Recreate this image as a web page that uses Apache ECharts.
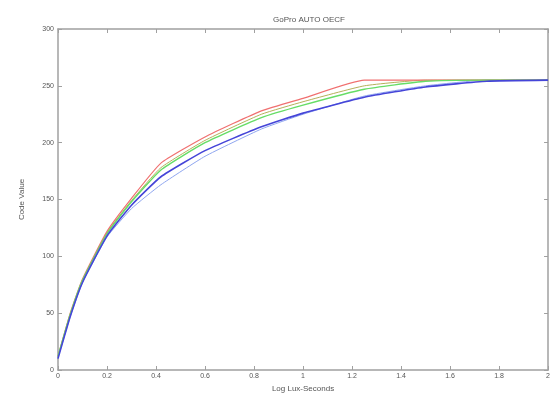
<!DOCTYPE html>
<html>
<head>
<meta charset="utf-8">
<script src="https://cdn.jsdelivr.net/npm/echarts@6/dist/echarts.min.js"></script>
<style>
  html, body { margin: 0; padding: 0; background: #fff; }
  #chart { width: 553px; height: 401px; }
</style>
</head>
<body>
<div id="chart"></div>
<script>
// Log exposure (log lux-seconds) sample positions
const logExposure = [0, 0.05, 0.1, 0.2, 0.3, 0.42, 0.6, 0.83, 1.0, 1.25, 1.5, 1.75, 2.0];

// Code values per channel
const redValues   = [12, 50, 80, 122, 151, 182, 205, 228, 239, 255, 255, 255, 255];
const olivValues  = [12, 49, 79, 121, 149, 178, 202, 225, 236, 250, 255, 255, 255];
const greenValues = [12, 49, 79, 120, 148, 176, 200, 222, 233, 247, 254, 255, 255];
const blueValues  = [10, 47, 77, 118, 145, 170, 193, 214, 226, 240, 249, 254, 255];
const lightBlueValues = [11, 47, 77, 117, 142, 163, 188, 212, 225, 241, 250, 255, 255];

const xTicks = [0, 0.2, 0.4, 0.6, 0.8, 1, 1.2, 1.4, 1.6, 1.8, 2];

const pair = vals => logExposure.map((x, i) => [x, vals[i]]);

const axisGray = '#a0a0a0';
const textGray = '#555';
const font = 'Liberation Sans, Arial, sans-serif';

function mkSeries(name, vals, color, width) {
  return {
    name, type: 'line', data: pair(vals), showSymbol: false, symbol: 'none',
    smooth: 0.15,
    lineStyle: { color, width }, itemStyle: { color }, z: 3
  };
}

// Box frame: same axis style on all four sides
function frameAxis(extra) {
  return Object.assign({
    type: 'value',
    axisLine: { show: true, onZero: false, lineStyle: { color: axisGray, width: 1.5 } },
    axisTick: { show: true, inside: true, length: 4, lineStyle: { color: axisGray } },
    splitLine: { show: false }
  }, extra);
}

const chart = echarts.init(document.getElementById('chart'));
chart.setOption({
  animation: false,
  backgroundColor: '#fff',
  title: {
    text: 'GoPro AUTO OECF', left: 304, top: 11, textAlign: 'center',
    textStyle: { fontSize: 8, fontWeight: 'normal', color: textGray, fontFamily: font }
  },
  grid: { left: 58, right: 2, top: 29, bottom: 31 },
  xAxis: [
    frameAxis({
      min: 0, max: 2, interval: 0.2, position: 'bottom',
      name: 'Log Lux-Seconds', nameLocation: 'middle', nameGap: 14,
      nameTextStyle: { fontSize: 8, color: textGray, fontFamily: font },
      axisLabel: { fontSize: 7, color: textGray, margin: 3, fontFamily: font,
        formatter: v => xTicks.includes(+v.toFixed(1)) ? String(+v.toFixed(1)) : '' }
    }),
    frameAxis({ min: 0, max: 2, interval: 0.2, position: 'top', axisLabel: { show: false } })
  ],
  yAxis: [
    frameAxis({
      min: 0, max: 300, interval: 50, position: 'left',
      name: 'Code Value', nameLocation: 'middle', nameGap: 32, nameRotate: 90,
      nameTextStyle: { fontSize: 8, color: textGray, fontFamily: font },
      axisLabel: { fontSize: 7, color: textGray, margin: 4, fontFamily: font }
    }),
    frameAxis({ min: 0, max: 300, interval: 50, position: 'right', axisLabel: { show: false } })
  ],
  series: [
    mkSeries('Light Blue', lightBlueValues, '#8fa6f0', 1),
    mkSeries('Olive', olivValues, '#b5b05a', 1),
    mkSeries('Red', redValues, '#f07070', 1.2),
    mkSeries('Green', greenValues, '#66dd66', 1.4),
    mkSeries('Blue', blueValues, '#4545d8', 1.6)
  ]
});
</script>
</body>
</html>
